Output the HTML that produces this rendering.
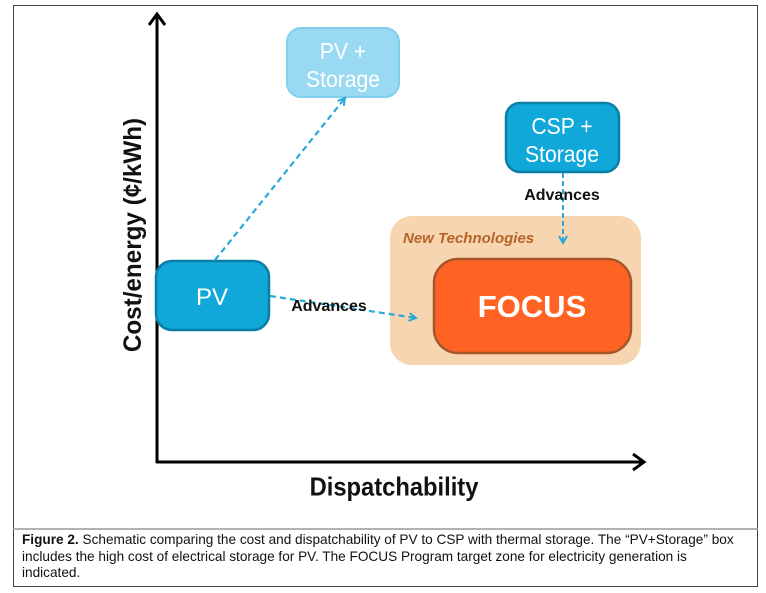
<!DOCTYPE html>
<html><head><meta charset="utf-8"><style>
body{margin:0;width:766px;height:593px;background:#fff;position:relative;overflow:hidden;font-family:"Liberation Sans",sans-serif}
.cap{position:absolute;left:22px;top:531px;width:760px;font-size:14px;line-height:16.5px;color:#111;transform:scaleX(0.972);transform-origin:0 0;white-space:nowrap}
</style></head><body>
<svg width="766" height="593" style="position:absolute;left:0;top:0">
<defs>
<marker id="ah" markerWidth="10" markerHeight="10" refX="8" refY="5" orient="auto" markerUnits="userSpaceOnUse"><path d="M1,1 L8,5 L1,9" fill="none" stroke="#29a9d8" stroke-width="2"/></marker>
</defs>
<rect x="13.5" y="5.5" width="744" height="581" fill="none" stroke="#444" stroke-width="1"/>
<line x1="13" y1="529" x2="758" y2="529" stroke="#999" stroke-width="1.5"/>
<line x1="157" y1="463" x2="157" y2="15" stroke="#000" stroke-width="3"/>
<path d="M149,25 L157,14 L165,25" fill="none" stroke="#000" stroke-width="3"/>
<line x1="156" y1="462" x2="643" y2="462" stroke="#000" stroke-width="3"/>
<path d="M633,454 L644,462 L633,470" fill="none" stroke="#000" stroke-width="3"/>
<text x="394" y="495" font-size="25" font-weight="bold" text-anchor="middle" fill="#111" transform="translate(394,0) scale(0.95,1.05) translate(-394,-23)">Dispatchability</text>
<text transform="translate(141,235) rotate(-90) scale(0.97,1)" font-size="25" font-weight="bold" text-anchor="middle" fill="#111">Cost/energy (¢/kWh)</text>
<rect x="390" y="216" width="251" height="149" rx="22" fill="#f7d5b0"/>
<text x="403" y="243" font-size="15" font-weight="bold" font-style="italic" fill="#b5642a">New Technologies</text>
<rect x="434" y="259" width="197" height="94" rx="24" fill="#ff6324" stroke="#a6572a" stroke-width="2.5"/>
<text x="532" y="317" font-size="31" font-weight="bold" text-anchor="middle" fill="#fff">FOCUS</text>
<rect x="287" y="28" width="112" height="69" rx="14" fill="#9ad9f2" stroke="#7fd0ef" stroke-width="2"/>
<g font-size="23" text-anchor="middle" fill="#fff">
<text transform="translate(343,59) scale(0.92,1)">PV +</text>
<text transform="translate(343,87) scale(0.92,1)">Storage</text>
</g>
<rect x="506" y="103" width="113" height="69" rx="14" fill="#10a8d8" stroke="#0b7ea6" stroke-width="2.5"/>
<g font-size="23" text-anchor="middle" fill="#fff">
<text transform="translate(562,134) scale(0.92,1)">CSP +</text>
<text transform="translate(562,162) scale(0.92,1)">Storage</text>
</g>
<rect x="156" y="261" width="113" height="69" rx="16" fill="#10a8d8" stroke="#0b7ea6" stroke-width="2.5"/>
<text x="212" y="305" font-size="24" text-anchor="middle" fill="#fff">PV</text>
<line x1="215" y1="260" x2="345" y2="98" stroke="#29a9d8" stroke-width="2.2" stroke-dasharray="6,4" marker-end="url(#ah)"/>
<line x1="270" y1="296" x2="416" y2="318" stroke="#29a9d8" stroke-width="2.2" stroke-dasharray="6,4" marker-end="url(#ah)"/>
<line x1="563" y1="173" x2="563" y2="243" stroke="#29a9d8" stroke-width="2" stroke-dasharray="5,3" marker-end="url(#ah)"/>
<text x="329" y="311" font-size="16" font-weight="bold" text-anchor="middle" fill="#111">Advances</text>
<text x="562" y="200" font-size="16" font-weight="bold" text-anchor="middle" fill="#111">Advances</text>
</svg>
<div class="cap"><b>Figure 2.</b> Schematic comparing the cost and dispatchability of PV to CSP with thermal storage. The “PV+Storage” box<br>includes the high cost of electrical storage for PV. The FOCUS Program target zone for electricity generation is<br>indicated.</div>
</body></html>
